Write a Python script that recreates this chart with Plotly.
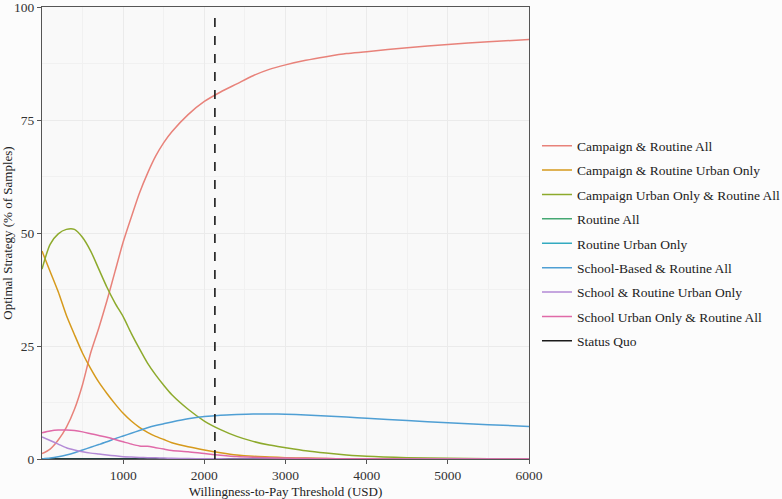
import plotly.graph_objects as go

# ---- data (x = WTP threshold in USD, y = % of samples) ----
wtp = [0, 100, 200, 300, 400, 500, 600, 700, 800, 900, 1000, 1100, 1200, 1300,
       1400, 1500, 1600, 1800, 2000, 2200, 2400, 2600, 2800, 3000, 3250, 3500,
       3750, 4000, 4500, 5000, 5500, 6000]

campaign_routine_all = [1.2, 2.2, 4.2, 7.0, 11.0, 16.5, 23.5, 29.0, 35.0, 41.5, 48.0, 53.5,
                        58.8, 63.2, 67.0, 70.0, 72.4, 76.2, 79.1, 81.2, 83.0, 84.8, 86.2,
                        87.2, 88.2, 89.0, 89.7, 90.1, 91.0, 91.7, 92.3, 92.8]
campaign_routine_urban = [46.0, 41.5, 37.0, 31.8, 27.5, 23.4, 20.0, 17.0, 14.5, 12.2, 10.1, 8.4,
                          7.0, 5.9, 5.0, 4.3, 3.6, 2.7, 2.0, 1.4, 0.9, 0.6, 0.45, 0.3, 0.2,
                          0.1, 0.05, 0.03, 0, 0, 0, 0]
campaign_urban_routine_all = [42.0, 47.5, 49.8, 50.8, 50.8, 49.0, 46.0, 42.0, 38.0, 34.5, 31.5,
                              27.8, 24.4, 21.2, 18.6, 16.3, 14.2, 11.0, 8.4, 6.5, 5.0, 3.9, 3.1,
                              2.5, 1.8, 1.3, 0.9, 0.6, 0.3, 0.15, 0.05, 0]
routine_all = [0] * len(wtp)
routine_urban = [0] * len(wtp)
school_based_routine_all = [0, 0.2, 0.5, 0.9, 1.4, 2.0, 2.6, 3.2, 3.8, 4.5, 5.1, 5.7, 6.3, 6.9,
                            7.4, 7.8, 8.2, 8.9, 9.4, 9.7, 9.85, 9.95, 9.95, 9.9, 9.75, 9.5,
                            9.3, 9.0, 8.5, 8.0, 7.6, 7.2]
school_routine_urban = [4.9, 4.1, 3.3, 2.5, 2.0, 1.6, 1.3, 1.1, 0.9, 0.7, 0.5, 0.42, 0.35, 0.3,
                        0.25, 0.2, 0.17, 0.1, 0.05, 0.03, 0, 0, 0, 0, 0, 0, 0, 0, 0, 0, 0, 0]
school_urban_routine_all = [5.8, 6.2, 6.4, 6.4, 6.3, 6.0, 5.6, 5.2, 4.8, 4.3, 3.8, 3.3, 2.9, 2.8,
                            2.5, 2.2, 1.9, 1.6, 1.2, 0.85, 0.55, 0.4, 0.3, 0.2, 0.15, 0.1,
                            0.05, 0.03, 0, 0, 0, 0]
status_quo = [0] * len(wtp)

threshold = 2130

FONT = "Liberation Serif"

# name, values, colour, legend rank
series = [
    ("Campaign & Routine All", campaign_routine_all, "#e8827a", 1),
    ("Campaign & Routine Urban Only", campaign_routine_urban, "#d69a1c", 2),
    ("Campaign Urban Only & Routine All", campaign_urban_routine_all, "#8daa2c", 3),
    ("Routine All", routine_all, "#45a873", 4),
    ("Routine Urban Only", routine_urban, "#33aac0", 5),
    ("School-Based & Routine All", school_based_routine_all, "#4f9fd4", 6),
    ("School & Routine Urban Only", school_routine_urban, "#b38ad6", 7),
    ("School Urban Only & Routine All", school_urban_routine_all, "#e06aa8", 8),
    ("Status Quo", status_quo, "#1a1a1a", 9),
]

# draw the all-zero series first so the visible curves sit on top
draw_order = [s for s in series if max(s[1]) == 0] + [s for s in series if max(s[1]) > 0]

fig = go.Figure()
for name, vals, col, rank in draw_order:
    fig.add_trace(go.Scatter(
        x=wtp, y=vals, name=name, mode="lines",
        line=dict(color=col, width=1.5, shape="spline", smoothing=0.7),
        legendrank=rank, legendgroup=name,
    ))

fig.add_shape(type="line", x0=threshold, x1=threshold, y0=0, y1=0.985,
              xref="x", yref="paper",
              line=dict(color="#1a1a1a", width=1.6, dash="dash"))

axis_common = dict(
    showline=True, linecolor="#555555", linewidth=1.2, mirror=True,
    ticks="outside", ticklen=4, tickcolor="#555555",
    gridcolor="#ebebeb", gridwidth=1, zeroline=False,
    ticklabeloverflow="allow",
    tickfont=dict(family=FONT, size=13.5, color="#333333"),
    title_font=dict(family=FONT, size=13, color="#222222"),
)

fig.update_xaxes(
    range=[0, 6000], tickvals=[1000, 2000, 3000, 4000, 5000, 6000],
    minor=dict(dtick=500, tick0=0, showgrid=True, gridcolor="#f1f1f1", ticks=""),
    title_text="Willingness-to-Pay Threshold (USD)", title_standoff=4,
    **axis_common,
)
fig.update_yaxes(
    range=[0, 100], tickvals=[0, 25, 50, 75, 100],
    minor=dict(dtick=12.5, tick0=0, showgrid=True, gridcolor="#f1f1f1", ticks=""),
    title_text="Optimal Strategy (% of Samples)", title_standoff=4,
    **axis_common,
)

fig.update_layout(
    width=782, height=499,
    margin=dict(l=42, r=253, t=7, b=40, autoexpand=False),
    paper_bgcolor="#fcfcfc",
    plot_bgcolor="#f9f9f9",
    font=dict(family=FONT, size=13, color="#222222"),
    legend=dict(
        x=1.0164, y=0.477, xanchor="left", yanchor="middle",
        font=dict(family=FONT, size=13.5, color="#222222"),
        bgcolor="rgba(0,0,0,0)", traceorder="grouped", tracegroupgap=3.85,
        itemwidth=30,
    ),
    showlegend=True,
)

# the page body has a default 8px margin; drop it so the figure fills the window
fig.write_html("out.html", config={"displayModeBar": False},
               post_script="document.body.style.margin='0';")
